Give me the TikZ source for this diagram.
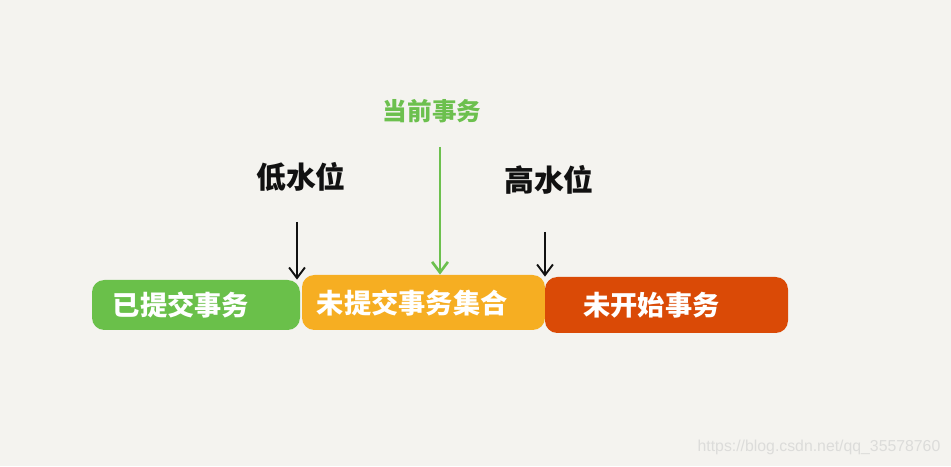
\documentclass[tikz,border=0pt]{standalone}
\usepackage{fontspec}
\newfontfamily\cjk{Noto Sans CJK SC}
\newfontfamily\wmfont{Liberation Sans}
\definecolor{paper}{HTML}{F4F3EF}
\definecolor{donegreen}{HTML}{6AC04A}
\definecolor{activeorange}{HTML}{F6AE22}
\definecolor{pendingred}{HTML}{DA4A06}
\definecolor{curgreen}{HTML}{6CC04E}
\definecolor{inkblack}{HTML}{111111}
\definecolor{wmgray}{HTML}{DCDCDA}
\usetikzlibrary{arrows.meta, calc}
\tikzset{
  txbox/.style={
    fill=#1, rounded corners=7pt, inner sep=0pt,
    minimum height=1.1cm, font=\cjk\bfseries\fontsize{15.5}{18}\selectfont,
    text=white, align=center
  },
  txbox/.default=donegreen,
  mark lbl/.style={font=\cjk\bfseries\fontsize{17}{20}\selectfont, text=#1},
  mark lbl/.default=inkblack,
  arr/.style={-{Straight Barb[length=6pt,width=9pt]}, line width=1.1pt, color=#1},
  arr/.default=inkblack,
}

\begin{document}
\begin{tikzpicture}
    \fill[paper] (0,0) rectangle (19.02,9.32);
    \useasboundingbox (0,0) rectangle (19.02,9.32);

    \node[txbox=donegreen, minimum width=4.16cm, minimum height=1.0cm]
      (done) at (3.92,3.22) {已提交事务\hspace*{0.6cm}};
    \node[txbox=activeorange, minimum width=4.86cm]
      (active) at (8.47,3.27) {未提交事务集合\hspace*{0.45cm}};
    \node[txbox=pendingred, minimum width=4.86cm, minimum height=1.12cm]
      (pending) at (13.33,3.22) {未开始事务\hspace*{0.6cm}};

    \node[mark lbl=curgreen, font=\cjk\bfseries\fontsize{14}{17}\selectfont]
      (cur) at (8.64,7.1) {当前事务};
    \node[mark lbl] (low) at (6.02,5.78) {低水位};
    \node[mark lbl] (high) at (10.98,5.72) {高水位};

    \coordinate (curtail) at (8.8,6.38);
    \coordinate (lowtail) at (5.94,4.88);
    \coordinate (hightail) at (10.9,4.68);

    \draw[arr=curgreen, line width=1.5pt] (curtail) -- (curtail |- active.north);
    \draw[arr] (lowtail) -- (lowtail |- done.north);
    \draw[arr] (hightail) -- (hightail |- pending.north);

    \node[font=\wmfont\fontsize{9}{11}\selectfont, text=wmgray] (wm) at (16.38,0.38)
      {https://blog.csdn.net/qq\_35578760};
\end{tikzpicture}
\end{document}
